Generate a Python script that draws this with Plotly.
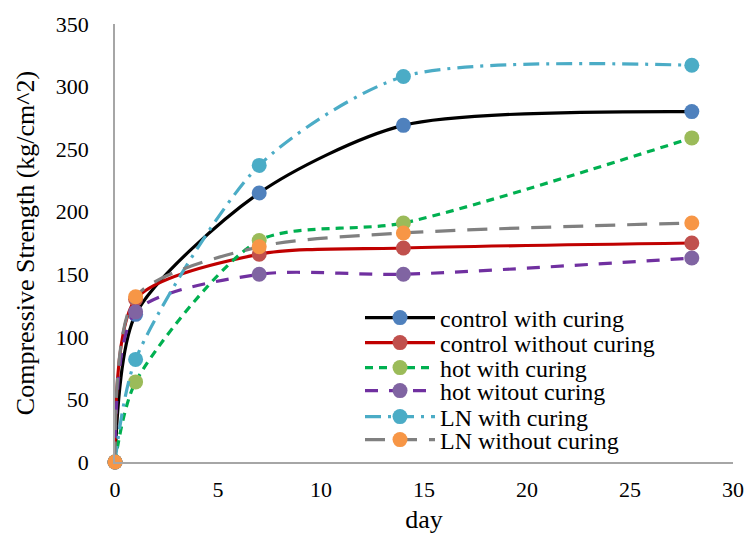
import plotly.graph_objects as go

days = [0, 1, 7, 14, 28]
series_names = ["control with curing", "control without curing", "hot with curing",
                "hot witout curing", "LN with curing", "LN without curing"]
control_with = [0, 118, 215, 269, 280]
control_without = [0, 130, 166, 171, 175]
hot_with = [0, 64, 177, 191, 259]
hot_without = [0, 120, 150, 150, 163]
ln_with = [0, 82, 237, 308, 317]
ln_without = [0, 132, 172, 183, 191]
values = [control_with, control_without, hot_with, hot_without, ln_with, ln_without]

line_colors = ["#000000", "#C00000", "#00B050", "#7030A0", "#4BACC6", "#808080"]
marker_colors = ["#4F81BD", "#C0504D", "#9BBB59", "#8064A2", "#4BACC6", "#F79646"]
dashes = ["solid", "solid", "8px,6px", "13px,11px", "16px,7px,3px,7px", "20px,12px"]

font_family = "Liberation Serif"
legend_ids = ["legend", "legend2", "legend3", "legend4", "legend5", "legend6"]
legend_row_px = [318, 343, 368, 391, 417, 440]

fig = go.Figure()
for name, vals, lc, mc, d, lg in zip(series_names, values, line_colors, marker_colors, dashes, legend_ids):
    fig.add_trace(go.Scatter(
        x=days, y=vals, name=name, mode="lines+markers",
        line=dict(color=lc, width=3.2, dash=d, shape="spline", smoothing=0.75),
        marker=dict(color=mc, size=15, line=dict(width=0)),
        cliponaxis=False, legend=lg,
    ))

plot_left, plot_bottom, plot_w, plot_h = 115, 462, 618, 438
legend_layout = {}
for lg, ypx in zip(legend_ids, legend_row_px):
    legend_layout[lg] = dict(
        x=(360 - plot_left) / plot_w, y=(plot_bottom - ypx) / plot_h,
        xanchor="left", yanchor="middle",
        font=dict(family=font_family, size=24, color="#000000"),
        bgcolor="rgba(0,0,0,0)", itemwidth=70, tracegroupgap=0,
    )

fig.update_layout(
    width=744, height=536,
    margin=dict(l=115, r=11, t=24, b=74),
    paper_bgcolor="white", plot_bgcolor="white",
    font=dict(family=font_family, size=22, color="#000000"),
    showlegend=True,
    xaxis=dict(range=[0, 30], dtick=5, showgrid=False, zeroline=False,
               showline=True, linecolor="#A6A6A6", linewidth=1.5, ticks="",
               automargin=False,
               title=dict(text="day", font=dict(family=font_family, size=26), standoff=9),
               tickfont=dict(family=font_family, size=22), ticklabelstandoff=7),
    yaxis=dict(range=[0, 350], dtick=50, showgrid=False, zeroline=False,
               showline=True, linecolor="#A6A6A6", linewidth=1.5, ticks="",
               automargin=False,
               title=dict(text="Compressive Strength (kg/cm^2)",
                          font=dict(family=font_family, size=26), standoff=14),
               tickfont=dict(family=font_family, size=22), ticklabelstandoff=20),
    **legend_layout,
)
fig.write_html("out.html")
